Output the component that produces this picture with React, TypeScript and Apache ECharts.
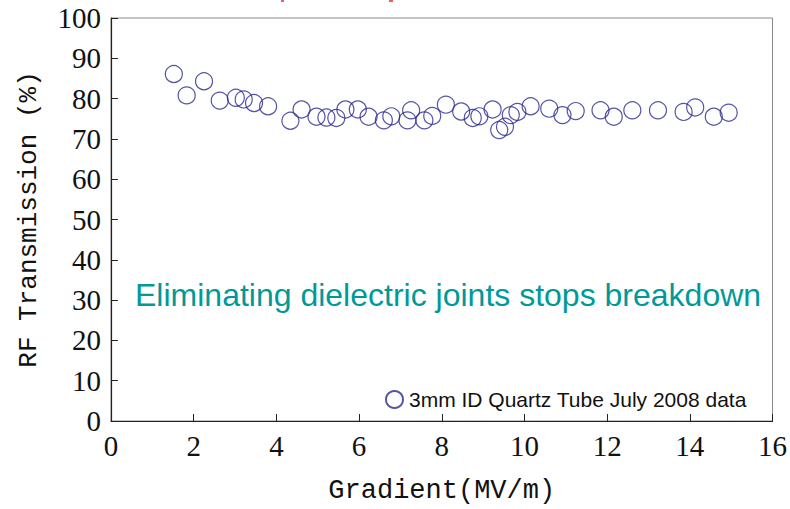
import React, { useEffect, useRef } from "react";
import * as echarts from "echarts";

// Gradient (MV/m) and RF transmission (%) for the 3mm ID quartz tube, July 2008
const gradient = [
  1.52, 1.83, 2.25, 2.63, 3.02, 3.21, 3.46, 3.8, 4.34, 4.61,
  4.97, 5.21, 5.45, 5.67, 5.97, 6.23, 6.6, 6.78, 7.17, 7.26,
  7.58, 7.77, 8.1, 8.47, 8.75, 8.91, 9.23, 9.39, 9.53, 9.67,
  9.83, 10.15, 10.6, 10.92, 11.24, 11.84, 12.16, 12.61, 13.23, 13.85,
  14.13, 14.58, 14.94,
];
const transmission = [
  86.1, 80.8, 84.3, 79.5, 80.2, 79.8, 78.9, 78.1, 74.5, 77.3,
  75.5, 75.3, 75.2, 77.3, 77.3, 75.5, 74.6, 75.6, 74.6, 77.1,
  74.6, 75.7, 78.5, 76.8, 75.2, 75.6, 77.3, 72.2, 73.0, 75.9,
  76.7, 78.1, 77.5, 75.9, 76.9, 77.1, 75.5, 77.1, 77.1, 76.7,
  77.8, 75.5, 76.5,
];
const seriesName = "3mm ID Quartz Tube July 2008 data";
const annotation = "Eliminating dielectric joints stops breakdown";
const xTitle = "Gradient(MV/m)";
const yTitle = "RF Transmission (%)";

export default function App() {
  const ref = useRef<HTMLDivElement>(null);

  useEffect(() => {
    if (!ref.current) return;
    const chart = echarts.init(ref.current, null, { renderer: "svg" });
    const points = gradient.map((g, i) => [g, transmission[i]]);
    const tickFont = "'Liberation Serif', 'DejaVu Serif', serif";
    const titleFont = "'Liberation Mono', 'DejaVu Sans Mono', monospace";
    chart.setOption({
      animation: false,
      backgroundColor: "#ffffff",
      grid: {
        left: 111,
        right: 16,
        top: 18,
        bottom: 82,
        show: true,
        borderColor: "#8a8a8a",
        borderWidth: 1,
        backgroundColor: "transparent",
      },
      xAxis: {
        type: "value",
        min: 0,
        max: 16,
        interval: 2,
        splitLine: { show: false },
        axisLine: { show: true, lineStyle: { color: "#222", width: 1.2 } },
        axisTick: { show: true, inside: true, length: 7, lineStyle: { color: "#222" } },
        axisLabel: {
          color: "#111",
          fontFamily: tickFont,
          fontSize: 29,
          margin: 10,
        },
        name: xTitle,
        nameLocation: "middle",
        nameGap: 56,
        nameTextStyle: { color: "#111", fontFamily: titleFont, fontSize: 27 },
      },
      yAxis: {
        type: "value",
        min: 0,
        max: 100,
        interval: 10,
        splitLine: { show: false },
        axisLine: { show: true, lineStyle: { color: "#222", width: 1.2 } },
        axisTick: { show: true, inside: true, length: 7, lineStyle: { color: "#222" } },
        axisLabel: {
          color: "#111",
          fontFamily: tickFont,
          fontSize: 29,
          margin: 10,
        },
        name: yTitle,
        nameLocation: "middle",
        nameGap: 69,
        nameRotate: 90,
        nameTextStyle: { color: "#111", fontFamily: titleFont, fontSize: 26 },
      },
      legend: {
        show: true,
        left: 380,
        top: 384,
        icon: "circle",
        itemWidth: 17,
        itemHeight: 17,
        itemGap: 8,
        textStyle: {
          color: "#111",
          fontFamily: "'Liberation Sans', Arial, sans-serif",
          fontSize: 21,
          padding: [0, 0, 0, 1],
        },
        data: [seriesName],
      },
      series: [
        {
          name: seriesName,
          type: "scatter",
          data: points,
          symbol: "circle",
          symbolSize: 17,
          itemStyle: {
            color: "transparent",
            borderColor: "#2b2b90",
            borderWidth: 1.2,
          },
        },
      ],
      graphic: [
        {
          type: "text",
          left: 135,
          top: 279,
          style: {
            text: annotation,
            fill: "#009999",
            fontFamily: "'Liberation Sans', Arial, sans-serif",
            fontSize: 32,
          },
        },
        { type: "rect", shape: { x: 281, y: 0, width: 3, height: 2 }, style: { fill: "#ee6060" } },
        { type: "rect", shape: { x: 389, y: 0, width: 4, height: 2 }, style: { fill: "#ee6060" } },
      ],
    });
    return () => chart.dispose();
  }, []);

  return (
    <div
      ref={ref}
      style={{ position: "fixed", left: 0, top: 0, width: 790, height: 509 }}
    />
  );
}
